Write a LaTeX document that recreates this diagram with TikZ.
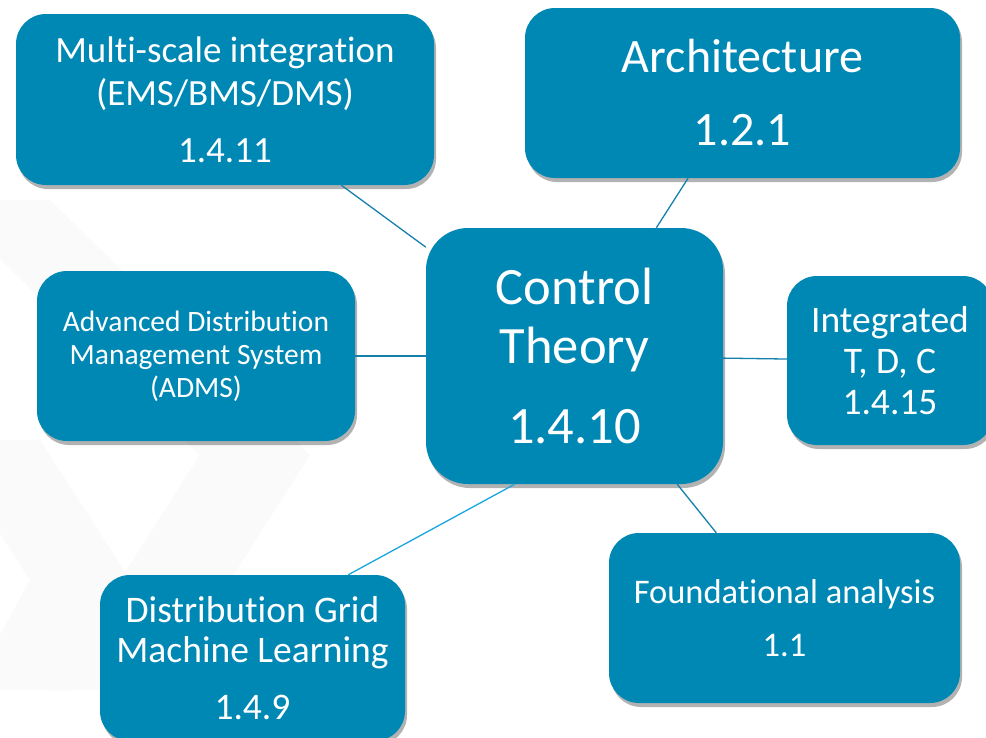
\documentclass[tikz,border=0pt]{standalone}
\usepackage{fontspec}
\setmainfont{Carlito}[Ligatures=NoCommon]
\usepackage{tikz}
\usetikzlibrary{positioning, shadows}
\definecolor{boxblue}{RGB}{0,136,181}
\definecolor{linkdark}{RGB}{22,128,172}
\definecolor{linklight}{RGB}{24,166,222}
\definecolor{chevgray}{RGB}{250,250,250}
\tikzset{
    topic/.style={rectangle, fill=boxblue, text=white, align=center, inner sep=0pt,
        rounded corners=30pt,
        drop shadow={shadow xshift=2pt, shadow yshift=-4pt, opacity=0.3, fill=black}},
    link/.style={draw=linkdark, line width=1.3pt},
    linklt/.style={draw=linklight, line width=1.3pt}
}

\begin{document}
\begin{tikzpicture}[x=1pt, y=-1pt]
        % Page frame
        \clip (0,0) rectangle (986,737);
        \fill[white] (0,0) rectangle (986,737);

        % Faint chevrons in the background
        \fill[chevgray] (-60,200) -- (50,200) -- (310,455) -- (160,690) -- (50,690) -- (200,455) -- cycle;
        \fill[chevgray] (-60,440) -- (40,440) -- (130,580) -- (70,690) -- (-30,690) -- (30,580) -- cycle;

        % Central topic
        \node[topic, rounded corners=42pt, minimum width=297pt, minimum height=256pt,
              font=\fontsize{52.5}{59}\selectfont] (ctrl) at (574.5,356)
              {Control\\Theory\\[21pt]1.4.10};

        % Surrounding topics
        \node[topic, minimum width=418pt, minimum height=171pt,
              font=\fontsize{37}{43}\selectfont] (multi) at (225,99.5)
              {Multi-scale integration\\(EMS/BMS/DMS)\\[14pt]1.4.11};
        \node[topic, minimum width=435pt, minimum height=170pt,
              font=\fontsize{48}{56}\selectfont] (arch) at (742.5,93)
              {Architecture\\[17pt]1.2.1};
        \node[topic, minimum width=206pt, minimum height=169pt,
              font=\fontsize{37.5}{41}\selectfont] (integ) at (890,360.5)
              {Integrated\\T, D, C\\1.4.15};
        \node[topic, minimum width=318pt, minimum height=170pt,
              font=\fontsize{29.5}{33}\selectfont] (adms) at (196,356)
              {Advanced Distribution\\Management System\\(ADMS)};
        \node[topic, minimum width=305pt, minimum height=166pt,
              font=\fontsize{37.5}{40}\selectfont] (dgml) at (252.5,658)
              {Distribution Grid\\Machine Learning\\[17pt]1.4.9};
        \node[topic, minimum width=351pt, minimum height=170pt,
              font=\fontsize{34.5}{40}\selectfont] (found) at (784.5,618)
              {Foundational analysis\\[13pt]1.1};

        % Connectors to the centre
        \draw[link] (multi) -- (ctrl);
        \draw[link] (arch) -- (ctrl);
        \draw[link] (adms) -- (ctrl);
        \draw[link] (integ) -- (ctrl);
        \draw[link] (found) -- (ctrl);
        \draw[linklt] (dgml.41) -- (ctrl.245);
    \end{tikzpicture}
\end{document}
